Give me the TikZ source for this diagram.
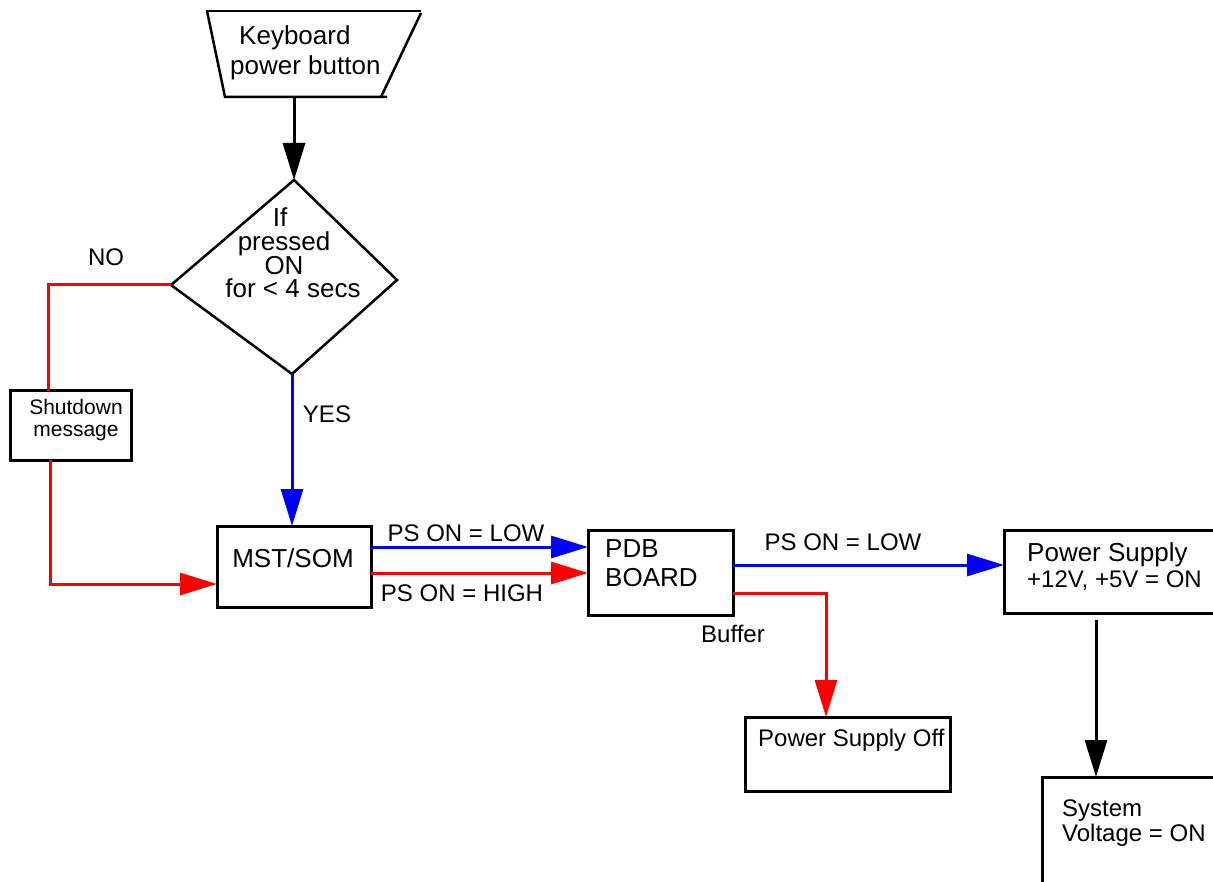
\documentclass[tikz,border=0pt]{standalone}
\usepackage{fontspec}
\setmainfont{Liberation Sans}
\usetikzlibrary{arrows.meta}
\definecolor{fred}{RGB}{255,0,0}
\definecolor{fblue}{RGB}{0,0,255}
\tikzset{
  boxn/.style={draw, line width=3pt, rectangle, inner sep=0pt, outer sep=0pt},
  ln/.style={line width=3pt},
  arr/.style={-{Triangle[length=37pt,width=22pt]}},
  tbig/.style={inner sep=0pt, font=\fontsize{26}{30}\selectfont},
  tmid/.style={inner sep=0pt, font=\fontsize{24}{28}\selectfont},
  tsml/.style={inner sep=0pt, font=\fontsize{21}{24}\selectfont},
}
\begin{document}
\begin{tikzpicture}[x=1pt,y=-1pt]
\useasboundingbox (0,0) rectangle (1213,882);
\clip (0,0) rectangle (1213,882);
\fill[white] (0,0) rectangle (1213,882);

% keyboard trapezoid
\draw[line width=2.5pt] (206,11) -- (421,11);
\draw[line width=2.5pt] (207,11) -- (225,97) -- (387,97);
\draw[line width=2.5pt] (421,13) -- (381,97);
\coordinate (kb) at (294,97);
\node[tbig, anchor=base west] (tkb1) at (239,45) {Keyboard};
\node[tbig, anchor=base west] (tkb2) at (230,75) {power button};

% diamond
\coordinate (dT) at (294,180);
\coordinate (dR) at (397,280);
\coordinate (dB) at (292,374);
\coordinate (dL) at (171,285);
\draw[line width=2.5pt] (dT) -- (dR) -- (dB) -- (dL) -- cycle;
\node[tbig, anchor=base] (td1) at (280,227) {If};
\node[tbig, anchor=base] (td2) at (284,251) {pressed};
\node[tbig, anchor=base] (td3) at (284,275) {ON};
\node[tbig, anchor=base] (td4) at (293,298) {for < 4 secs};

% boxes
\node[boxn, minimum width=121pt, minimum height=69pt] (shut) at (70.5,425.5) {};
\node[tsml, anchor=base] (ts1) at (76,414) {Shutdown};
\node[tsml, anchor=base] (ts2) at (76,437) {message};

\node[boxn, minimum width=154pt, minimum height=81pt] (mst) at (294,566.5) {};
\node[tbig, anchor=base] (tm) at (293,567) {MST/SOM};

\node[boxn, minimum width=145pt, minimum height=85pt] (pdb) at (660.5,572.5) {};
\node[tbig, anchor=base west] (tp1) at (605,557) {PDB};
\node[tbig, anchor=base west] (tp2) at (605,586) {BOARD};

\node[boxn, minimum width=236pt, minimum height=83pt] (ps) at (1122,571.5) {};
\node[tbig, anchor=base west] (tps1) at (1027,561) {Power Supply};
\node[tmid, anchor=base west] (tps2) at (1027,587) {+12V, +5V = ON};

\node[boxn, minimum width=205pt, minimum height=74pt] (off) at (847.5,754) {};
\node[tmid, anchor=base west] (toff) at (758,746) {Power Supply Off};

\node[boxn, minimum width=208pt, minimum height=143pt] (sys) at (1146,848.5) {};
\node[tmid, anchor=base west] (tsy1) at (1062,816) {System};
\node[tmid, anchor=base west] (tsy2) at (1062,841) {Voltage = ON};

% labels
\node[tmid, anchor=base] (lno) at (106,266) {NO};
\node[tmid, anchor=base] (lyes) at (327,423) {YES};
\node[tmid, anchor=base] (llow1) at (466,541) {PS ON = LOW};
\node[tmid, anchor=base] (lhigh) at (462,601) {PS ON = HIGH};
\node[tmid, anchor=base] (llow2) at (843,550) {PS ON = LOW};
\node[tmid, anchor=base] (lbuf) at (733,642) {Buffer};

% helper coordinates
\coordinate (n1) at (48,285);
\coordinate (n2) at (50,584);
\coordinate (yb) at (0,547);
\coordinate (yr) at (0,573);
\coordinate (yp) at (0,565);
\coordinate (xo) at (826,593);
\coordinate (xs) at (1096,0);

% connectors
\draw[ln, arr] (kb) -- (dT);
\draw[ln, fred] (dL) -- (n1) -- (n1 |- shut.north);
\draw[ln, fred, arr] (n2 |- shut.south) -- (n2) -- (n2 -| mst.west);
\draw[ln, fblue, arr] (dB) -- (dB |- mst.north);
\draw[ln, fblue, arr] (mst.east |- yb) -- (pdb.west |- yb);
\draw[ln, fred, arr] (mst.east |- yr) -- (pdb.west |- yr);
\draw[ln, fblue, arr] (pdb.east |- yp) -- (ps.west |- yp);
\draw[ln, fred, arr] (pdb.east |- xo) -- (xo) -- (xo |- off.north);
\draw[ln, arr, shorten <=7pt] (xs |- ps.south) -- (xs |- sys.north);
\end{tikzpicture}
\end{document}
